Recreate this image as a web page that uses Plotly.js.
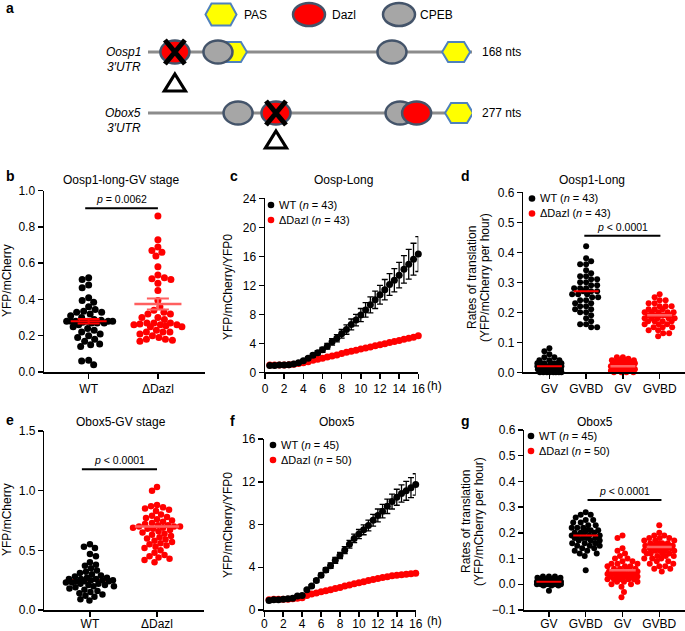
<!DOCTYPE html>
<html>
<head>
<meta charset="utf-8">
<script src="https://cdn.plot.ly/plotly-3.0.1.min.js"></script>
<style>html,body{margin:0;padding:0;background:#fff;}#chart{width:685px;height:631px;}</style>
</head>
<body>
<div id="chart"></div>
<script>
// ---------------- DATA ----------------
// Panel a: schematic of 3'UTRs (site positions as fraction of the UTR line)
const utrNames = ['Oosp1', 'Obox5'];
const utrLengths = ['168 nts', '277 nts'];
const oosp1Sites = ['PAS', 'CPEB', 'Dazl', 'CPEB', 'PAS'];
const oosp1Pos = [0.262, 0.216, 0.083, 0.753, 0.951];
const oosp1Deleted = [false, false, true, false, false];
const obox5Sites = ['CPEB', 'Dazl', 'CPEB', 'Dazl', 'PAS'];
const obox5Pos = [0.278, 0.395, 0.778, 0.829, 0.960];
const obox5Deleted = [false, true, false, false, false];
const siteLegend = ['PAS', 'Dazl', 'CPEB'];

// Panel b: Oosp1-long-GV stage (YFP/mCherry)
const groupLabels = ['WT', 'ΔDazl'];
const bWT = [0.52,0.51,0.48,0.465,0.41,0.395,0.385,0.36,0.345,0.335,0.33,0.33,0.32,0.31,0.30,0.29,0.285,
  0.28,0.28,0.28,0.28,0.28,0.28,0.275,0.27,0.27,0.27,0.26,0.25,0.24,0.23,0.22,0.21,0.20,0.19,0.18,0.17,
  0.155,0.15,0.14,0.065,0.06,0.04];
const bDazl = [0.86,0.73,0.69,0.67,0.66,0.64,0.58,0.535,0.52,0.515,0.51,0.49,0.45,0.395,0.36,0.34,0.33,
  0.32,0.32,0.30,0.30,0.29,0.27,0.27,0.27,0.265,0.26,0.26,0.26,0.255,0.25,0.25,0.23,0.22,0.22,0.22,0.21,
  0.20,0.19,0.18,0.18,0.175,0.17];
const bMean = [0.28, 0.375];
const bSem = [0.012, 0.03];
const bP = {x0: -0.05, x1: 1.0, y: 0.903, text: '<i>p</i> = 0.0062'};

// Panels c & f: time courses
const timeH = [0.5,1,1.5,2,2.5,3,3.5,4,4.5,5,5.5,6,6.5,7,7.5,8,8.5,9,9.5,10,10.5,11,11.5,12,12.5,13,13.5,14,14.5,15,15.5,16];
const cWT = [0.95,0.95,1.0,1.0,1.05,1.15,1.3,1.6,1.95,2.35,2.7,3.1,3.6,4.2,4.7,5.3,5.9,6.6,7.2,7.9,8.6,9.3,10.0,10.7,11.4,12.1,12.7,13.4,14.2,14.9,15.6,16.3];
const cWTErr = [0.05,0.05,0.05,0.05,0.05,0.05,0.1,0.15,0.2,0.25,0.3,0.35,0.4,0.45,0.5,0.6,0.65,0.75,0.8,0.9,1.0,1.1,1.2,1.3,1.4,1.5,1.6,1.75,1.9,2.05,2.2,2.4];
const cDazl = [1.0,1.0,1.0,1.0,1.05,1.1,1.2,1.3,1.45,1.65,1.8,1.95,2.1,2.25,2.4,2.6,2.75,2.9,3.05,3.2,3.35,3.5,3.65,3.8,3.95,4.1,4.25,4.4,4.55,4.7,4.85,5.05];
const cLegend = ['WT (<i>n</i> = 43)', 'ΔDazl (<i>n</i> = 43)'];

const fWT = [0.9,0.95,0.95,1.0,1.05,1.1,1.3,1.35,1.9,2.25,2.75,3.25,3.75,4.15,4.65,5.1,5.6,6.15,6.7,7.1,7.5,7.9,8.4,8.85,9.25,9.7,10.15,10.55,10.9,11.15,11.45,11.75];
const fWTErr = [0.05,0.05,0.05,0.05,0.05,0.05,0.05,0.05,0.1,0.12,0.15,0.2,0.22,0.25,0.28,0.3,0.33,0.36,0.4,0.43,0.46,0.5,0.55,0.6,0.63,0.67,0.7,0.75,0.8,0.88,0.94,1.0];
const fDazl = [0.95,1.0,1.0,1.0,1.0,1.05,1.1,1.15,1.35,1.5,1.6,1.7,1.8,1.9,2.0,2.1,2.25,2.35,2.45,2.55,2.65,2.75,2.85,2.95,3.05,3.1,3.2,3.25,3.3,3.35,3.4,3.45];
const fLegend = ['WT (<i>n</i> = 45)', 'ΔDazl (<i>n</i> = 50)'];

// Panels d & g: rates of translation
const stageLabels = ['GV', 'GVBD', 'GV', 'GVBD'];
const dWTGV = [0.08,0.07,0.06,0.05,0.05,0.04,0.04,0.04,0.03,0.03,0.03,0.03,0.03,0.03,0.03,0.02,0.02,0.02,0.02,0.02,0.02,0.02,0.02,0.02,0.02,
  0.01,0.01,0.01,0.01,0.01,0.01,0.01,0.01,0.01,0.01,0.0,0.0,0.0,0.0,0.0,0.0,0.0,0.0];
const dWTGVBD = [0.42,0.38,0.37,0.36,0.36,0.34,0.33,0.32,0.32,0.31,0.31,0.30,0.30,0.29,0.29,0.28,0.28,0.28,0.27,0.27,0.27,0.26,0.26,0.26,
  0.25,0.25,0.24,0.24,0.23,0.23,0.22,0.22,0.21,0.21,0.20,0.20,0.19,0.18,0.17,0.16,0.16,0.15,0.15];
const dDazlGV = [0.05,0.05,0.045,0.04,0.04,0.04,0.04,0.035,0.035,0.03,0.03,0.03,0.03,0.03,0.03,0.025,0.025,0.025,0.02,0.02,0.02,0.02,0.02,
  0.02,0.02,0.015,0.015,0.015,0.015,0.01,0.01,0.01,0.01,0.01,0.01,0.005,0.005,0.005,0.005,0.0,0.0,0.0,0.0];
const dDazlGVBD = [0.26,0.25,0.24,0.24,0.23,0.23,0.22,0.22,0.22,0.21,0.21,0.21,0.20,0.20,0.20,0.20,0.20,0.19,0.19,0.19,0.19,0.19,0.19,
  0.18,0.18,0.18,0.18,0.18,0.17,0.17,0.17,0.17,0.16,0.16,0.16,0.15,0.15,0.15,0.14,0.14,0.13,0.13,0.12];
const dMean = [0.02, 0.27, 0.02, 0.19];
const dP = {x0: 0.95, x1: 3.02, y: 0.455, text: '<i>p</i> < 0.0001'};

const gWTGV = [0.03,0.03,0.03,0.025,0.025,0.02,0.02,0.02,0.02,0.02,0.02,0.02,0.015,0.015,0.015,0.015,0.015,0.01,0.01,0.01,0.01,0.01,0.01,
  0.01,0.01,0.01,0.01,0.01,0.005,0.005,0.005,0.005,0.005,0.005,0.0,0.0,0.0,0.0,0.0,0.0,0.0,-0.005,-0.005,-0.005,-0.025];
const gWTGVBD = [0.28,0.27,0.27,0.26,0.25,0.25,0.24,0.24,0.23,0.23,0.22,0.22,0.22,0.21,0.21,0.21,0.20,0.20,0.20,0.20,0.19,0.19,0.19,0.19,
  0.18,0.18,0.18,0.18,0.17,0.17,0.17,0.16,0.16,0.16,0.15,0.15,0.15,0.14,0.14,0.13,0.13,0.12,0.12,0.11,0.055];
const gDazlGV = [0.19,0.18,0.14,0.13,0.12,0.11,0.10,0.10,0.09,0.09,0.08,0.08,0.08,0.07,0.07,0.07,0.06,0.06,0.06,0.06,0.05,0.05,0.05,0.05,
  0.05,0.04,0.04,0.04,0.04,0.04,0.04,0.03,0.03,0.03,0.03,0.03,0.03,0.02,0.02,0.02,0.02,0.02,0.01,0.01,0.01,0.0,0.0,-0.01,-0.03,-0.05];
const gDazlGVBD = [0.23,0.20,0.19,0.19,0.18,0.18,0.18,0.17,0.17,0.17,0.16,0.16,0.16,0.16,0.15,0.15,0.15,0.15,0.15,0.15,0.14,0.14,0.14,0.14,
  0.14,0.14,0.13,0.13,0.13,0.13,0.13,0.12,0.12,0.12,0.12,0.11,0.11,0.11,0.10,0.10,0.10,0.09,0.09,0.08,0.08,0.07,0.07,0.06,0.06,0.05];
const gMean = [0.01, 0.19, 0.055, 0.145];
const gP = {x0: 1.05, x1: 3.06, y: 0.328, text: '<i>p</i> < 0.0001'};

// Panel e: Obox5-GV stage
const eWT = [0.55,0.53,0.52,0.47,0.45,0.40,0.38,0.37,0.35,0.33,0.32,0.31,0.30,0.29,0.28,0.27,0.27,0.26,0.26,0.26,0.25,0.25,0.25,0.24,
  0.24,0.24,0.23,0.23,0.22,0.22,0.21,0.21,0.20,0.20,0.19,0.18,0.17,0.16,0.15,0.14,0.13,0.12,0.11,0.09,0.08];
const eDazl = [1.03,1.00,0.88,0.87,0.86,0.85,0.84,0.83,0.80,0.79,0.78,0.77,0.76,0.75,0.74,0.73,0.72,0.71,0.71,0.70,0.70,0.70,0.69,0.69,
  0.68,0.68,0.67,0.66,0.65,0.64,0.63,0.62,0.61,0.60,0.59,0.58,0.57,0.56,0.55,0.54,0.53,0.52,0.50,0.48,0.46,0.45,0.44,0.43,0.42,0.40];
const eMean = [0.25, 0.70];
const eP = {x0: -0.12, x1: 1.0, y: 1.18, text: '<i>p</i> < 0.0001'};

const panelTitles = ['Oosp1-long-GV stage', 'Oosp-Long', 'Oosp1-Long', 'Obox5-GV stage', 'Obox5', 'Obox5'];
const ratesTitle = ['Rates of translation', '(YFP/mCherry per hour)'];

// ---------------- LAYOUT HELPERS ----------------
const W = 685, H = 631;
const FONT = 'Liberation Sans, Arial, Helvetica, sans-serif';
const BLACK = '#000000', RED = '#ff0000', MEANRED = '#ff6060';
const PX = px => px / W;
const PY = py => 1 - py / H;
const FS = 12;

const P = {
  b: {xa: 'x',  ya: 'y',  xd: [44, 205],     yd: [190.7, 372],   xr: [-0.645, 1.68], yr: [0, 1]},
  c: {xa: 'x2', ya: 'y2', xd: [265, 418.3],  yd: [198.3, 372.3], xr: [0, 16],        yr: [0, 24]},
  d: {xa: 'x3', ya: 'y3', xd: [523.3, 685],  yd: [192.3, 372.3], xr: [-0.71, 3.69],  yr: [0, 0.6]},
  e: {xa: 'x4', ya: 'y4', xd: [44.3, 204],   yd: [431, 610],     xr: [-0.68, 1.70],  yr: [0, 1.5]},
  f: {xa: 'x5', ya: 'y5', xd: [264.3, 415.7],yd: [439, 610],     xr: [0, 16],        yr: [0, 16]},
  g: {xa: 'x6', ya: 'y6', xd: [524.3, 685],  yd: [430, 610],     xr: [-0.67, 3.7],   yr: [-0.1, 0.6]}
};
const pxPerX = c => (c.xd[1] - c.xd[0]) / (c.xr[1] - c.xr[0]);
const pxPerY = c => (c.yd[1] - c.yd[0]) / (c.yr[1] - c.yr[0]);

function swarmOffsets(vals, pxY, diam, maxHalf) {
  const order = vals.map((v, i) => i).sort((a, b) => vals[b] - vals[a]);
  const placed = [];
  const off = new Array(vals.length).fill(0);
  const step = 0.5;
  order.forEach((i, n) => {
    const y = vals[i] * pxY;
    const sgn = (n % 2) ? -1 : 1;
    const cands = [0];
    for (let k = 1; k * step <= maxHalf; k++) { cands.push(sgn * k * step, -sgn * k * step); }
    let chosen = null, bestD = -1, bestX = 0;
    for (const cx of cands) {
      let md = Infinity;
      for (const p of placed) { const d = Math.hypot(cx - p[0], y - p[1]); if (d < md) md = d; }
      if (md >= diam) { chosen = cx; break; }
      if (md > bestD + 0.01) { bestD = md; bestX = cx; }
    }
    const x = chosen !== null ? chosen : bestX;
    placed.push([x, y]);
    off[i] = x;
  });
  return off;
}

const traces = [];
function addSwarm(cfg, vals, gi, color, size, diam, maxHalf) {
  const off = swarmOffsets(vals, pxPerY(cfg), diam, maxHalf);
  const sx = pxPerX(cfg);
  traces.push({type: 'scatter', mode: 'markers', xaxis: cfg.xa, yaxis: cfg.ya,
    x: off.map(o => gi + o / sx), y: vals, cliponaxis: false, hoverinfo: 'skip',
    marker: {color: color, size: size, line: {width: 0}}});
}
function addMean(cfg, gi, m, halfW, color, sem, lw) {
  traces.push({type: 'scatter', mode: 'lines', xaxis: cfg.xa, yaxis: cfg.ya,
    x: [gi - halfW, gi + halfW], y: [m, m], line: {color: color, width: lw || 2.5}, hoverinfo: 'skip', cliponaxis: false});
  if (sem !== undefined && sem !== null) {
    traces.push({type: 'scatter', mode: 'markers', xaxis: cfg.xa, yaxis: cfg.ya, x: [gi], y: [m],
      marker: {size: 1, color: 'rgba(0,0,0,0)'}, hoverinfo: 'skip',
      error_y: {type: 'data', array: [sem], width: 11, thickness: 2, color: color}});
  }
}
function addCurve(cfg, xs, ys, err, color) {
  const t = {type: 'scatter', mode: 'markers', xaxis: cfg.xa, yaxis: cfg.ya, x: xs, y: ys,
    cliponaxis: false, hoverinfo: 'skip', marker: {color: color, size: 7, line: {width: 0}}};
  if (err) t.error_y = {type: 'data', array: err, width: 3, thickness: 1.3, color: color};
  traces.push(t);
}

// ---- b ----
addSwarm(P.b, bWT, 0, BLACK, 7, 6.6, 24);
addSwarm(P.b, bDazl, 1, RED, 7, 6.6, 24);
addMean(P.b, 0, bMean[0], 0.26, RED, bSem[0], 2);
addMean(P.b, 1, bMean[1], 0.34, MEANRED, bSem[1]);
// ---- c ----
addCurve(P.c, timeH, cDazl, null, RED);
addCurve(P.c, timeH, cWT, cWTErr, BLACK);
// ---- d ----
addSwarm(P.d, dWTGV, 0, BLACK, 6, 5.6, 12);
addSwarm(P.d, dWTGVBD, 1, BLACK, 6, 5.6, 14);
addSwarm(P.d, dDazlGV, 2, RED, 6, 5.6, 12);
addSwarm(P.d, dDazlGVBD, 3, RED, 6, 5.6, 15);
dMean.forEach((m, i) => addMean(P.d, i, m, 0.34, i < 2 ? RED : MEANRED, null, i < 2 ? 2 : 2.5));
// ---- e ---- (WT mean mostly hidden behind the dots, as in the original)
addMean(P.e, 0, eMean[0], 0.36, RED);
addSwarm(P.e, eWT, 0, BLACK, 6.5, 6.0, 24);
addSwarm(P.e, eDazl, 1, RED, 6.5, 6.0, 25);
addMean(P.e, 1, eMean[1], 0.33, MEANRED);
// ---- f ----
addCurve(P.f, timeH, fDazl, null, RED);
addCurve(P.f, timeH, fWT, fWTErr, BLACK);
// ---- g ----
addSwarm(P.g, gWTGV, 0, BLACK, 6, 5.6, 12);
addSwarm(P.g, gWTGVBD, 1, BLACK, 6, 5.6, 14);
addSwarm(P.g, gDazlGV, 2, RED, 6, 5.6, 15);
addSwarm(P.g, gDazlGVBD, 3, RED, 6, 5.6, 15);
gMean.forEach((m, i) => addMean(P.g, i, m, i === 2 ? 0.36 : 0.34, i < 2 ? RED : MEANRED, null, i < 2 ? 2 : 2.5));

// diagram axis placeholder trace (keeps x7 alive)
traces.push({type: 'scatter', mode: 'markers', xaxis: 'x7', yaxis: 'y7', x: [0, 1], y: [0, 1],
  marker: {size: 1, color: 'rgba(0,0,0,0)'}, hoverinfo: 'skip'});

// ---------------- AXES ----------------
const tickFont = {family: FONT, size: FS, color: BLACK};
function axisBase() {
  return {showline: true, linecolor: BLACK, linewidth: 1.5, ticks: 'outside', ticklen: 5, tickwidth: 1.5,
    tickcolor: BLACK, showgrid: false, zeroline: false, tickfont: tickFont, fixedrange: true};
}
const layout = {
  width: W, height: H, margin: {l: 0, r: 0, t: 0, b: 0}, showlegend: false,
  paper_bgcolor: '#ffffff', plot_bgcolor: 'rgba(0,0,0,0)', font: {family: FONT, color: BLACK},
  shapes: [], annotations: []
};
function setAxes(cfg, xOpts, yOpts) {
  const xn = cfg.xa === 'x' ? 'xaxis' : 'xaxis' + cfg.xa.slice(1);
  const yn = cfg.ya === 'y' ? 'yaxis' : 'yaxis' + cfg.ya.slice(1);
  layout[xn] = Object.assign(axisBase(), {domain: [PX(cfg.xd[0]), PX(cfg.xd[1])], range: cfg.xr, anchor: cfg.ya}, xOpts);
  layout[yn] = Object.assign(axisBase(), {domain: [PY(cfg.yd[1]), PY(cfg.yd[0])], range: cfg.yr, anchor: cfg.xa}, yOpts);
}
setAxes(P.b, {tickvals: [0, 1], ticktext: groupLabels}, {dtick: 0.2, tick0: 0, tickformat: '.1f'});
setAxes(P.c, {dtick: 2, tick0: 0}, {dtick: 4, tick0: 0});
setAxes(P.d, {tickvals: [0, 1, 2, 3], ticktext: stageLabels}, {dtick: 0.1, tick0: 0, tickformat: '.1f'});
setAxes(P.e, {tickvals: [0, 1], ticktext: groupLabels, ticklabelstandoff: -3}, {dtick: 0.5, tick0: 0, tickformat: '.1f'});
setAxes(P.f, {dtick: 2, tick0: 0, ticklabelstandoff: -3}, {dtick: 4, tick0: 0});
setAxes(P.g, {tickvals: [0, 1, 2, 3], ticktext: stageLabels, ticklabelstandoff: -3}, {dtick: 0.1, tick0: 0, tickformat: '.1f'});
layout.xaxis7 = {domain: [PX(148), PX(472)], range: [0, 1], visible: false, fixedrange: true, anchor: 'y7'};
layout.yaxis7 = {domain: [PY(160), 1], range: [0, 1], visible: false, fixedrange: true, anchor: 'x7'};

// ---------------- ANNOTATIONS ----------------
function ann(text, xpx, ypx, opts) {
  layout.annotations.push(Object.assign({text: text, x: PX(xpx), y: PY(ypx), xref: 'paper', yref: 'paper',
    showarrow: false, xanchor: 'center', yanchor: 'middle', font: {family: FONT, size: FS, color: BLACK}}, opts || {}));
}
// panel letters
[['a', 4, 8], ['b', 4, 176], ['c', 228, 176], ['d', 459, 176], ['e', 4, 420], ['f', 228, 421], ['g', 459, 421]]
  .forEach(l => ann('<b>' + l[0] + '</b>', l[1], l[2], {xanchor: 'left', font: {family: FONT, size: 14, color: BLACK}}));
// panel titles
ann(panelTitles[0], 121, 180); ann(panelTitles[1], 343, 180); ann(panelTitles[2], 592, 180);
ann(panelTitles[3], 121, 422); ann(panelTitles[4], 337, 422); ann(panelTitles[5], 595, 422);
// y axis titles
ann('YFP/mCherry', 7, 281, {textangle: -90});
ann('YFP/mCherry', 7, 520, {textangle: -90});
ann('YFP/mCherry/YFP0', 228, 287, {textangle: -90});
ann('YFP/mCherry/YFP0', 228, 525, {textangle: -90});
ann(ratesTitle[0], 472, 278, {textangle: -90});
ann(ratesTitle[1], 485, 278, {textangle: -90});
ann(ratesTitle[0], 466, 522, {textangle: -90});
ann(ratesTitle[1], 479, 522, {textangle: -90});
// (h) units
ann('(h)', 434, 386); ann('(h)', 434, 621);

// legends for c, d, f, g
function legend(xpx, ypx, labels) {
  [BLACK, RED].forEach((col, i) => {
    const y = ypx + i * 15;
    layout.shapes.push({type: 'circle', xref: 'paper', yref: 'paper', xsizemode: 'pixel', ysizemode: 'pixel',
      xanchor: PX(xpx), yanchor: PY(y), x0: -3.3, x1: 3.3, y0: -3.3, y1: 3.3, fillcolor: col, line: {width: 0}});
    ann(labels[i], xpx + 6, y, {xanchor: 'left', font: {family: FONT, size: 11, color: BLACK}});
  });
}
legend(271, 205, cLegend);
legend(532, 198.5, cLegend);
legend(273, 445, fLegend);
legend(531, 436, fLegend);

// significance brackets
function bracket(cfg, p) {
  layout.shapes.push({type: 'line', xref: cfg.xa, yref: cfg.ya, x0: p.x0, x1: p.x1, y0: p.y, y1: p.y,
    line: {color: BLACK, width: 2}});
  layout.annotations.push({text: p.text, xref: cfg.xa, yref: cfg.ya, x: (p.x0 + p.x1) / 2, y: p.y, yshift: 9,
    showarrow: false, xanchor: 'center', yanchor: 'middle', font: {family: FONT, size: 10.5, color: BLACK}});
}
bracket(P.b, bP); bracket(P.d, dP); bracket(P.e, eP); bracket(P.g, gP);

// ---------------- PANEL a (schematic) ----------------
const hexPath = (w, h) => `M ${-w/2},0 L ${-w/2 + 6},${h/2} L ${w/2 - 6},${h/2} L ${w/2},0 L ${w/2 - 6},${-h/2} L ${-w/2 + 6},${-h/2} Z`;
const siteStyle = {
  PAS: {fill: '#ffff00', line: '#4f81bd'},
  Dazl: {fill: '#ff0000', line: '#44546a'},
  CPEB: {fill: '#a6a6a6', line: '#44546a'}
};
function siteShape(type, xref, xanchor, yanchor, big) {
  const st = siteStyle[type];
  const w = big ? 32 : 29, h = 23;
  if (type === 'PAS') {
    return {type: 'path', xref: xref, yref: 'paper', xsizemode: 'pixel', ysizemode: 'pixel', xanchor: xanchor, yanchor: yanchor,
      path: hexPath(big ? 31 : 28, big ? 22 : 20), fillcolor: st.fill, line: {color: st.line, width: 2}};
  }
  return {type: 'circle', xref: xref, yref: 'paper', xsizemode: 'pixel', ysizemode: 'pixel', xanchor: xanchor, yanchor: yanchor,
    x0: -w/2, x1: w/2, y0: -h/2, y1: h/2, fillcolor: st.fill, line: {color: st.line, width: 2.5}};
}
// legend of sites
const legendPos = [[221, 242], [309, 330], [399, 418]];
siteLegend.forEach((s, i) => {
  layout.shapes.push(siteShape(s, 'paper', PX(legendPos[i][0]), PY(14.5), true));
  ann(s, legendPos[i][1], 14.5, {xanchor: 'left', font: {family: FONT, size: 12, color: BLACK}});
});
const rows = [
  {y: 52, sites: oosp1Sites, pos: oosp1Pos, del: oosp1Deleted, tri: 31},
  {y: 113, sites: obox5Sites, pos: obox5Pos, del: obox5Deleted, tri: 27}
];
rows.forEach((r, ri) => {
  layout.shapes.push({type: 'line', xref: 'x7', yref: 'paper', x0: 0, x1: 1, y0: PY(r.y), y1: PY(r.y),
    line: {color: '#8c8c8c', width: 3}});
  r.sites.forEach((s, i) => {
    layout.shapes.push(siteShape(s, 'x7', r.pos[i], PY(r.y), false));
    if (r.del[i]) {
      layout.shapes.push({type: 'path', xref: 'x7', yref: 'paper', xsizemode: 'pixel', ysizemode: 'pixel',
        xanchor: r.pos[i], yanchor: PY(r.y), path: 'M -10,-12 L 10,12 M -10,12 L 10,-12', line: {color: BLACK, width: 5}});
      layout.shapes.push({type: 'path', xref: 'x7', yref: 'paper', xsizemode: 'pixel', ysizemode: 'pixel',
        xanchor: r.pos[i], yanchor: PY(r.y + r.tri), path: 'M 0,9 L 10.5,-8 L -10.5,-8 Z',
        fillcolor: '#ffffff', line: {color: BLACK, width: 3.2}});
    }
  });
  ann('<i>' + utrNames[ri] + '</i>', 143, r.y, {xanchor: 'right', font: {family: FONT, size: 12, color: BLACK}});
  ann('<i>3′UTR</i>', 143, r.y + 14.5, {xanchor: 'right', font: {family: FONT, size: 12, color: BLACK}});
  ann(utrLengths[ri], 480, r.y, {xanchor: 'left', font: {family: FONT, size: 12, color: BLACK}});
});

Plotly.newPlot('chart', traces, layout, {staticPlot: true, displayModeBar: false});
</script>
</body>
</html>
